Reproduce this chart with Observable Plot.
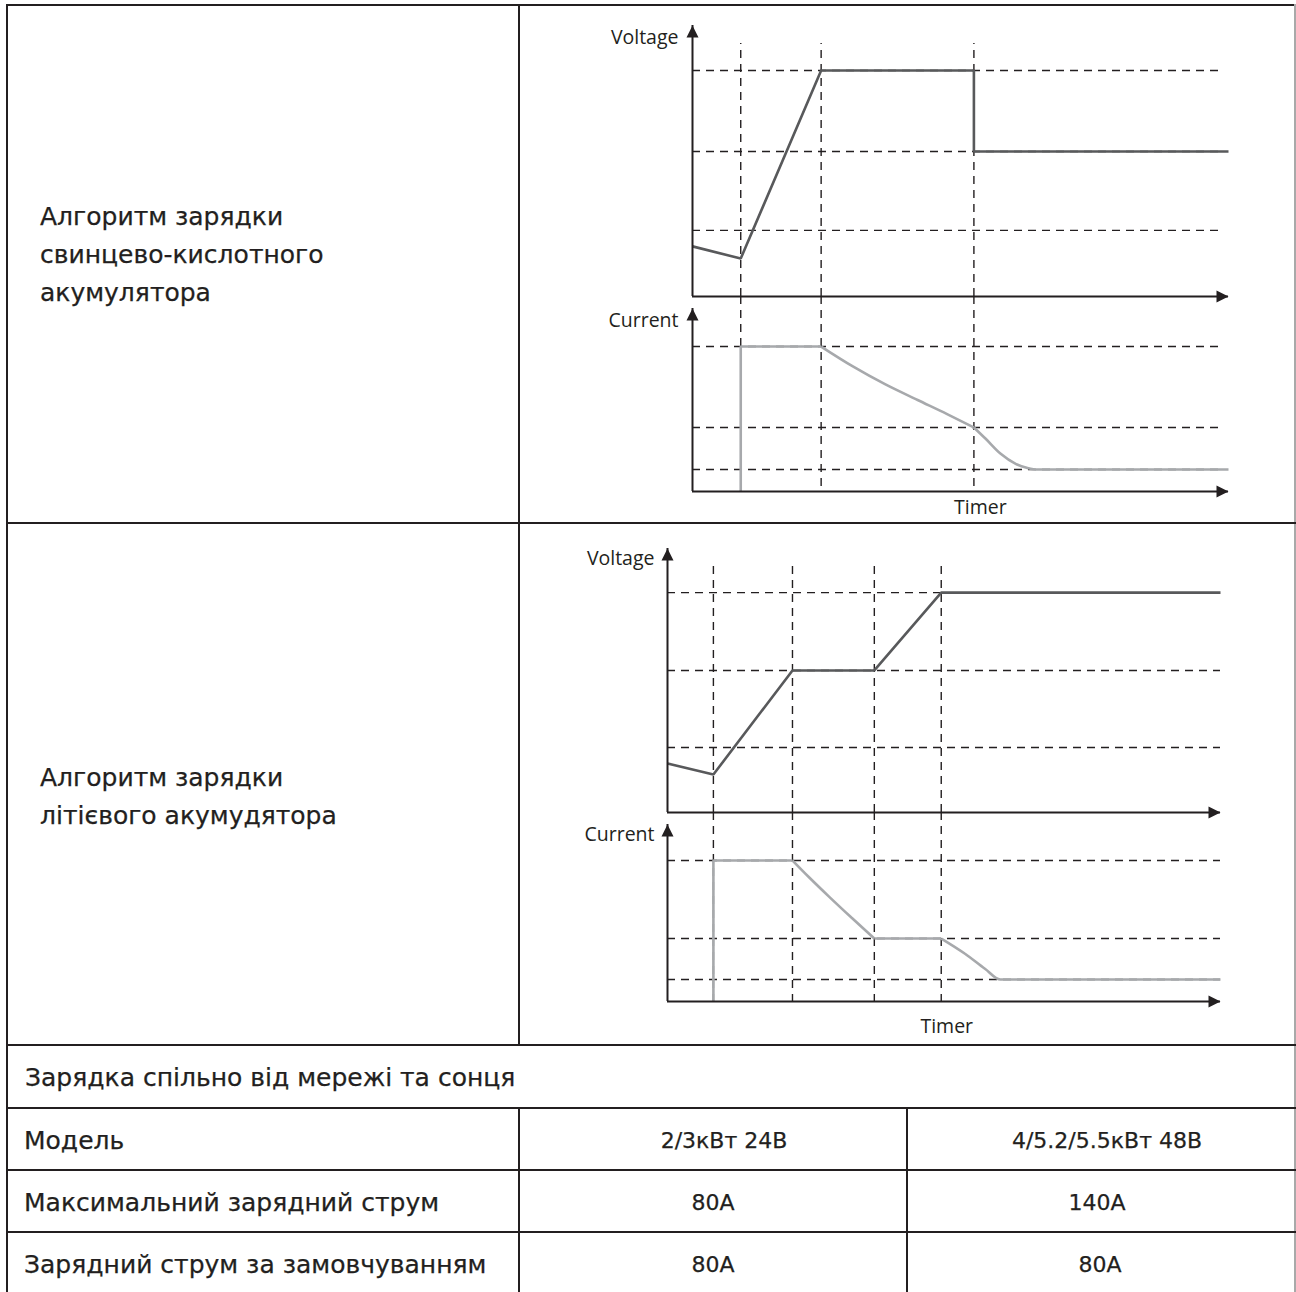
<!DOCTYPE html>
<html><head><meta charset="utf-8">
<script src="https://cdn.jsdelivr.net/npm/d3@7"></script>
<script src="https://cdn.jsdelivr.net/npm/@observablehq/plot@0.6"></script>
<style>
html,body{margin:0;padding:0;background:#fff;}
#page{position:relative;width:1296px;height:1292px;overflow:hidden;font-family:"DejaVu Sans",sans-serif;color:#231f20;background:#fff;}
.hl{position:absolute;height:2px;background:#231f20;}
.vl{position:absolute;width:2px;background:#231f20;}
.t{position:absolute;white-space:nowrap;line-height:1;-webkit-text-stroke:0.25px #231f20;}
.panel{position:absolute;}
.panel svg{overflow:visible;}
</style></head><body><div id="page"></div>
<script>
// ---------- data ----------
// Lead-acid charging chart (time and levels in relative units 0..100)
const leadPhases = [9, 24, 52.5];
const leadVoltLevels = [83.4, 53.5, 24.4];
const leadCurrLevels = [79.2, 35.0, 12.0];
const leadVoltT = [0, 9, 24, 52.5, 52.5, 100];
const leadVoltV = [18.5, 14.0, 83.4, 83.4, 53.5, 53.5];
// current: straight pieces ("step"/"hold") and smooth decays ("decay1"/"decay2")
const leadCurrT   = [9, 9, 24,                 24, 30, 36, 42, 47.5, 52.5,                    52.5, 54.7, 57.5, 60.3, 62.5, 64.4, 100];
const leadCurrI   = [0, 79.2, 79.2,            79.2, 68.2, 58.5, 50.0, 42.3, 35.0,            35.0, 28.8, 20.6, 15.1, 12.9, 12.0, 12.0];
const leadCurrSeg = ["step", "step", "step",   "decay1", "decay1", "decay1", "decay1", "decay1", "decay1",
                     "decay2", "decay2", "decay2", "decay2", "decay2", "decay2", "decay2"];

// Lithium charging chart
const liPhases = [8.3, 22.6, 37.4, 49.5];
const liVoltLevels = [83.3, 53.8, 24.6];
const liCurrLevels = [79.7, 35.6, 12.4];
const liVoltT = [0, 8.3, 22.6, 37.4, 49.5, 100];
const liVoltV = [18.6, 14.4, 53.8, 53.8, 83.3, 83.3];
const liCurrT   = [8.3, 8.3, 22.6,            22.6, 25.5, 29.3, 33.3, 37.4,              37.4, 49.5,      49.5, 53.8, 57.4, 60.2, 100];
const liCurrI   = [0, 79.7, 79.7,             79.7, 70.5, 59.0, 47.3, 35.6,              35.6, 35.6,      35.6, 27.0, 18.5, 12.4, 12.4];
const liCurrSeg = ["step", "step", "step",    "decay1", "decay1", "decay1", "decay1", "decay1",   "hold", "hold",
                   "decay2", "decay2", "decay2", "decay2", "decay2"];

// Table texts
const leadTitle = ["Алгоритм зарядки", "свинцево-кислотного", "акумулятора"];
const liTitle = ["Алгоритм зарядки", "літієвого акумудятора"];
const sectionTitle = "Зарядка спільно від мережі та сонця";
const rowLabels = ["Модель", "Максимальний зарядний струм", "Зарядний струм за замовчуванням"];
const models = ["2/3кВт 24В", "4/5.2/5.5кВт 48В"];
const maxCurrent = ["80A", "140A"];
const defaultCurrent = ["80A", "80A"];
const axisLabels = {voltage: "Voltage", current: "Current", time: "Timer"};

// ---------- helpers ----------
const page = document.getElementById("page");
const INK = "#231f20";
function hline(x, y, w, color) { const d = document.createElement("div"); d.className = "hl"; d.style.left = x + "px"; d.style.top = y + "px"; d.style.width = w + "px"; if (color) d.style.background = color; page.appendChild(d); }
function vline(x, y, h, color) { const d = document.createElement("div"); d.className = "vl"; d.style.left = x + "px"; d.style.top = y + "px"; d.style.height = h + "px"; if (color) d.style.background = color; page.appendChild(d); }
function text(str, x, baseline, size, anchor) {
  const d = document.createElement("div"); d.className = "t"; d.textContent = str;
  d.style.fontSize = size + "px"; d.style.top = (baseline - 0.846 * size) + "px"; d.style.left = x + "px";
  if (anchor === "middle") d.style.transform = "translateX(-50%)";
  page.appendChild(d);
}

// table grid
hline(6, 4, 1290);
vline(6, 4, 1288);
vline(1294, 4, 1288, "#a9a9a9");
vline(518, 4, 1042);
hline(6, 522, 1290);
hline(6, 1044, 1290);
hline(6, 1107, 1290);
hline(6, 1169, 1290);
hline(6, 1231, 1290);
vline(518, 1107, 185);
vline(906, 1107, 185);

// table text
leadTitle.forEach((s, i) => text(s, 40, 225 + i * 38, 25));
liTitle.forEach((s, i) => text(s, 40, 786 + i * 38, 25));
text(sectionTitle, 25, 1086, 25);
const rowBase = [1149, 1211, 1273];
const rowVals = [models, maxCurrent, defaultCurrent];
const colCenters = [[724, 1107], [713, 1097], [713, 1100]];
rowLabels.forEach((s, i) => {
  text(s, 24, rowBase[i], 25);
  text(rowVals[i][0], colCenters[i][0], rowBase[i], 22, "middle");
  text(rowVals[i][1], colCenters[i][1], rowBase[i], 22, "middle");
});

// arrow symbols (tip at the anchor point)
const arrowUp = {draw(ctx) { ctx.moveTo(0, 0); ctx.lineTo(-6, 12); ctx.lineTo(6, 12); ctx.closePath(); }};
const arrowRight = {draw(ctx) { ctx.moveTo(0, 0); ctx.lineTo(-12, -6); ctx.lineTo(-12, 6); ctx.closePath(); }};
const dash = {stroke: INK, strokeWidth: 1.4, strokeDasharray: "8,6"};
const labelFont = {fontFamily: "Open Sans", fontSize: 19.5, fill: INK};

function panel(o) {
  const rows = o.t.map((t, i) => ({t, v: o.v[i], seg: o.seg ? o.seg[i] : "all"}));
  const lineStyle = {x: "t", y: "v", z: "seg", stroke: o.color, strokeWidth: 2.6, strokeLinejoin: "miter", strokeLinecap: "butt"};
  const marks = [
    Plot.ruleY(o.levels, {x1: 0, x2: o.dashEnd, ...dash}),
    o.ruleTop != null ? Plot.ruleX(o.phases, {y1: 0, y2: o.ruleTop, ...dash}) : Plot.ruleX(o.phases, dash),
    Plot.line(rows.filter(d => !d.seg.startsWith("decay")), {...lineStyle, curve: "linear"}),
    Plot.line(rows.filter(d => d.seg.startsWith("decay")), {...lineStyle, curve: "monotone-x"}),
    Plot.ruleX([0], {y1: 0, y2: 100, stroke: INK, strokeWidth: 2}),
    Plot.ruleY([0], {x1: 0, x2: 100, stroke: INK, strokeWidth: 2}),
    Plot.dot([0], {x: 0, y: 100, symbol: arrowUp, fill: INK, stroke: "none"}),
    Plot.dot([0], {x: 100, y: 0, symbol: arrowRight, fill: INK, stroke: "none"}),
    Plot.text([o.label], {x: 0, y: o.labelY, dx: o.labelDx, textAnchor: "end", ...labelFont})
  ];
  if (o.timerX != null) marks.push(Plot.text([axisLabels.time], {x: o.timerX, y: 0, dy: o.timerDy, ...labelFont}));
  const svg = Plot.plot({
    width: o.width, height: o.height,
    marginLeft: o.ml, marginRight: o.mr, marginTop: o.mt, marginBottom: o.mb,
    x: {domain: [0, 100], axis: null},
    y: {domain: [0, 100], axis: null, ...(o.yRange ? {range: o.yRange} : {})},
    style: {background: "transparent", overflow: "visible"},
    marks
  });
  const wrap = document.createElement("div");
  wrap.className = "panel"; wrap.style.left = o.left + "px"; wrap.style.top = o.top + "px";
  wrap.appendChild(svg); page.appendChild(wrap);
}

// Lead-acid: voltage panel (frame x 692..1228, y 296..25)
panel({left: 560, top: 10, width: 700, height: 286, ml: 132, mr: 32, mt: 15, mb: 0,
  levels: leadVoltLevels, dashEnd: 98.5, phases: leadPhases, ruleTop: 93.4,
  t: leadVoltT, v: leadVoltV, color: "#58595b", label: axisLabels.voltage, labelY: 95.6, labelDx: -14});
// Lead-acid: current panel (frame y 491..308)
panel({left: 560, top: 296, width: 700, height: 224, ml: 132, mr: 32, mt: 0, mb: 29, yRange: [195, 12],
  levels: leadCurrLevels, dashEnd: 98.5, phases: leadPhases,
  t: leadCurrT, v: leadCurrI, seg: leadCurrSeg, color: "#a7a9ac", label: axisLabels.current, labelY: 93.4, labelDx: -14,
  timerX: 53.7, timerDy: 16});

// Lithium: voltage panel (frame x 667..1220, y 812..548)
panel({left: 540, top: 530, width: 700, height: 282, ml: 127, mr: 20, mt: 18, mb: 0,
  levels: liVoltLevels, dashEnd: 100, phases: liPhases, ruleTop: 93.2,
  t: liVoltT, v: liVoltV, color: "#58595b", label: axisLabels.voltage, labelY: 96.2, labelDx: -13});
// Lithium: current panel (frame y 1001..824)
panel({left: 540, top: 812, width: 700, height: 228, ml: 127, mr: 20, mt: 0, mb: 39, yRange: [189, 12],
  levels: liCurrLevels, dashEnd: 100, phases: liPhases,
  t: liCurrT, v: liCurrI, seg: liCurrSeg, color: "#a7a9ac", label: axisLabels.current, labelY: 94.4, labelDx: -13,
  timerX: 50.5, timerDy: 25});
</script></body></html>
